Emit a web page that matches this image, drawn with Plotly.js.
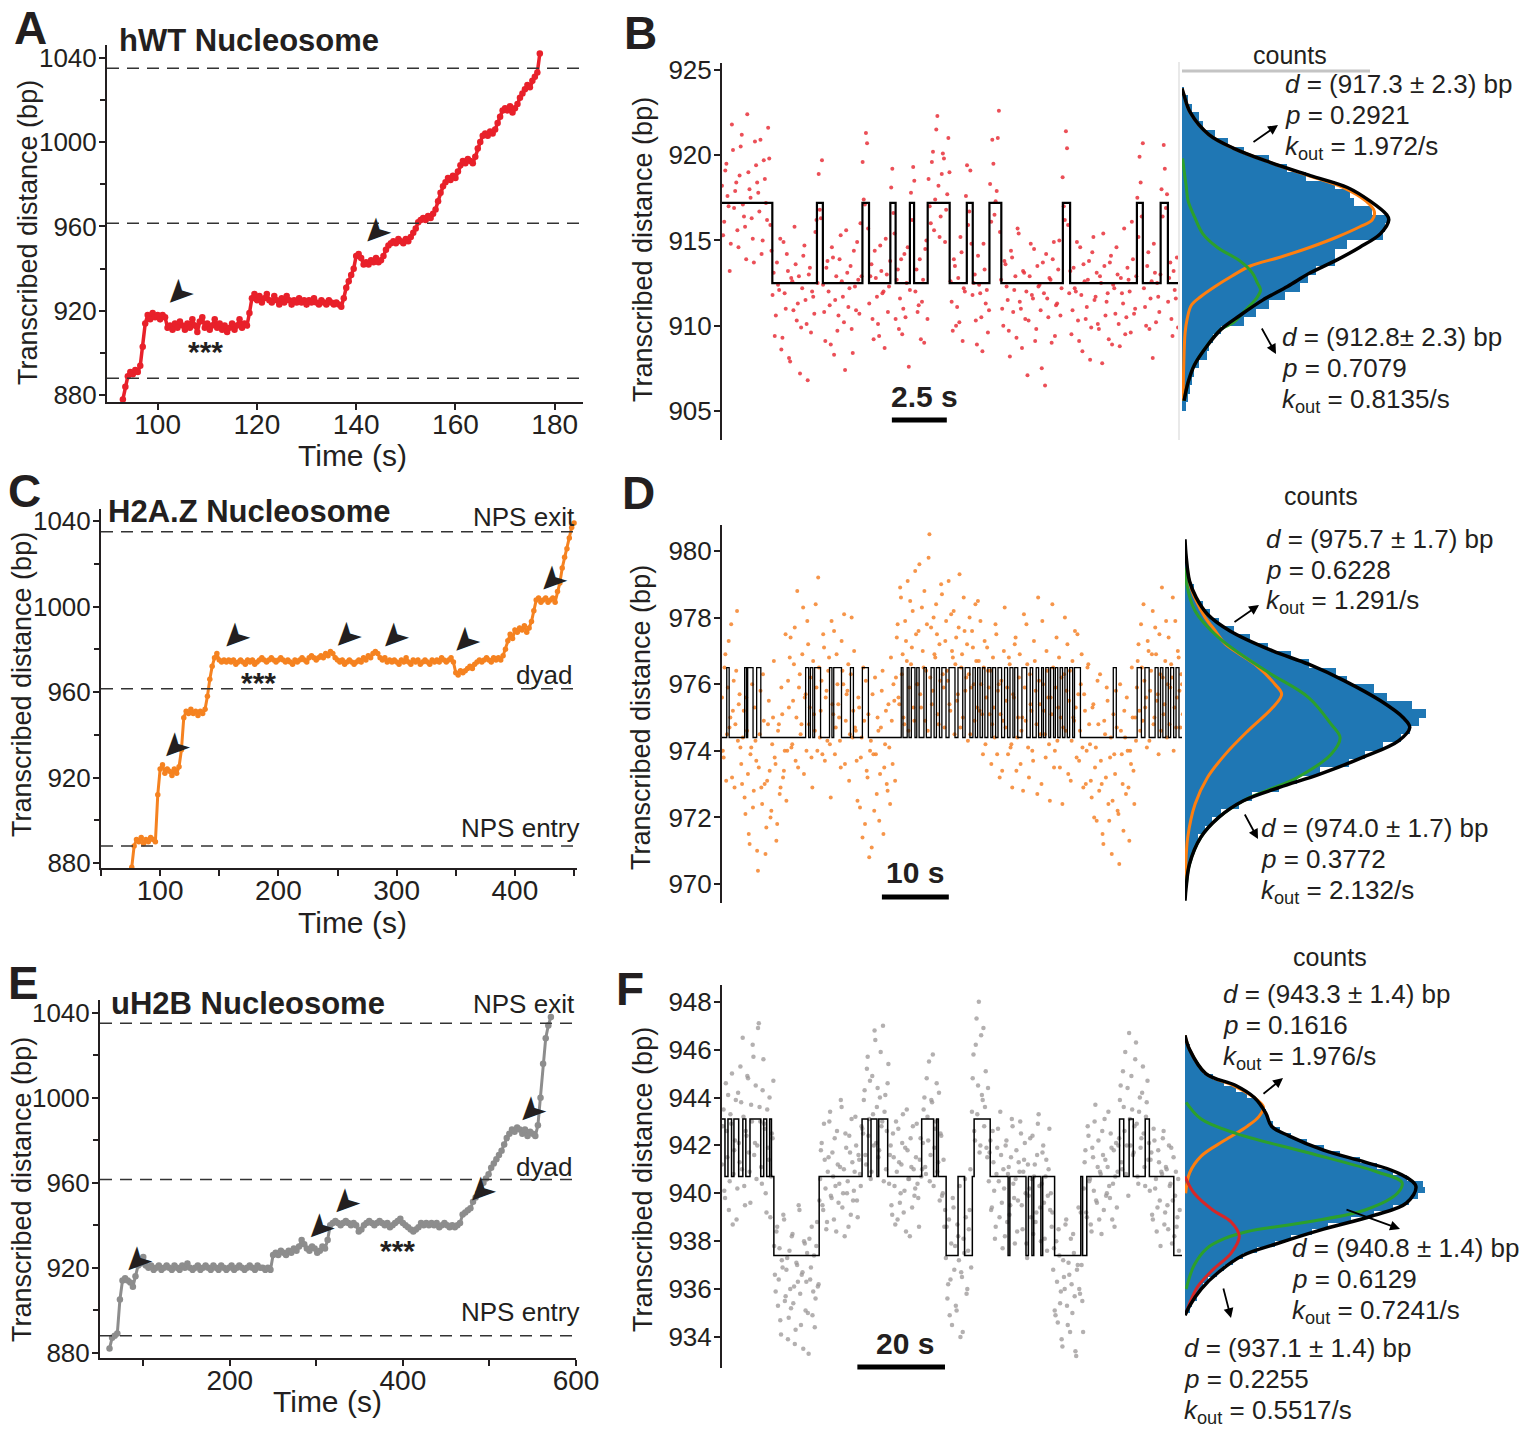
<!DOCTYPE html>
<html><head><meta charset="utf-8">
<script src="https://cdn.plot.ly/plotly-3.0.1.min.js"></script>
<style>html,body{margin:0;padding:0;background:#fff}#chart{width:1526px;height:1432px}</style>
</head><body><div id="chart"></div>
<script>
// ---------- Panel A : hWT nucleosome trace (sampled every 0.5 s from 93 s) ----------
const aT0 = 93, aDt = 0.5;
const aVals = [878,884,889,891,890,892,891,894,903,914,918,916,919,917,918,916,918,917,912,913,911,914,912,915,913,911,914,912,916,913,910,915,917,912,914,911,913,916,912,914,911,913,910,912,914,911,913,916,912,914,913,919,
926,928,925,927,924,926,928,925,924,927,925,923,926,924,927,925,923,925,924,926,924,925,923,925,924,926,924,923,925,924,923,925,924,923,924,923,922,926,931,934,937,940,946,947,945,942,943,942,944,943,945,943,944,946,949,951,952,953,952,954,953,952,954,953,955,957,959,962,963,964,963,965,964,966,968,972,976,979,981,983,982,984,983,986,989,991,990,992,991,990,993,997,1000,1003,1004,1003,1005,1004,1006,1009,1012,1015,1016,1015,1017,1014,1016,1018,1021,1023,1025,1027,1026,1029,1031,1033,1042];
const aArrowT = [102.6, 142.4], aArrowD = [922.8, 952.0];

// ---------- Panel C : H2A.Z nucleosome trace (every 2 s from 76 s) ----------
const cT0 = 76, cDt = 2;
const cVals = [878,888,891,890,892,889,891,890,892,891,890,912,924,926,922,924,923,921,924,922,925,933,948,951,950,952,950,951,949,951,950,952,958,966,972,976,978,975,974,975,974,975,974,975,973,974,975,974,973,975,974,975,973,974,975,976,975,974,975,976,975,974,975,976,975,974,975,974,973,975,974,975,976,975,974,976,977,976,975,976,977,976,978,977,979,978,976,975,974,975,973,974,975,974,973,974,975,974,976,975,977,976,978,979,978,976,975,976,974,975,974,975,974,973,975,974,976,974,973,975,974,975,973,974,975,974,973,975,974,975,974,976,975,974,975,976,974,969,968,970,969,970,971,972,971,973,974,975,974,975,976,975,974,976,975,976,975,977,980,984,987,985,989,988,990,989,991,988,990,993,998,1003,1004,1002,1003,1004,1002,1003,1004,1002,1007,1011,1018,1023,1027,1032,1037,1039];
const cArrowT = [156.6, 250.4, 291.0, 351.2, 105.4, 424.8];
const cArrowD = [980.5, 980.5, 980.5, 978.3, 929.0, 1006.9];

// ---------- Panel E : uH2B nucleosome trace (every 3 s from 61 s) ----------
const eT0 = 61, eDt = 3;
const eVals = [882,887,888,889,905,914,915,914,913,911,916,921,922,925,921,920,921,919,920,921,919,920,921,920,919,921,920,919,921,920,922,920,919,920,921,919,920,921,920,919,921,920,919,921,920,919,920,921,919,920,921,920,919,920,921,920,919,921,920,920,919,920,919,926,927,926,928,927,926,928,927,929,928,930,933,931,929,928,930,929,927,928,930,929,933,940,941,942,941,940,941,942,941,940,941,940,937,938,940,941,942,941,940,941,942,941,940,941,939,940,941,942,943,941,940,939,938,937,938,939,941,940,941,940,941,940,941,939,940,941,940,939,940,939,940,941,945,946,947,948,951,953,955,957,960,962,964,967,969,971,973,975,978,981,983,985,984,986,985,983,985,982,984,983,982,987,1000,1016,1028,1034,1038];
const eArrowT = [83.4, 293.6, 323.4, 481.2, 538.6];
const eArrowD = [917.6, 933.3, 945.1, 950.6, 988.2];

const npsLines = [888, 961.5, 1035];

// ---------- Panel B : zoomed hWT pause (two interleaved sample sets, every 0.1 s) ----------
const bDt = 0.1;
const bVals = [918.2,916.1,919.5,917.0,914.8,920.3,917.9,915.6,918.8,921.2,916.4,913.9,919.0,917.5,915.1,920.8,918.4,916.7,914.2,919.7,917.2,921.6,915.9,
911.8,909.4,913.7,912.1,908.6,914.9,911.0,913.2,907.9,912.6,915.8,910.3,912.9,909.9,914.1,911.5,906.8,913.4,912.0,910.7,916.2,
918.9,916.3,
912.4,909.1,913.8,911.2,914.6,908.3,912.9,910.6,915.3,911.7,907.4,913.1,912.2,909.8,914.4,910.9,912.7,916.0,
919.6,917.1,920.7,
911.3,913.6,909.2,912.8,910.1,914.7,911.9,908.7,913.0,912.3,
918.1,916.6,
910.4,913.3,911.6,909.5,914.2,912.5,907.6,
917.8,919.3,
912.0,910.8,913.9,911.4,909.0,915.0,
918.6,916.0,920.2,917.4,922.3,915.2,918.9,919.8,916.8,921.0,
912.6,909.7,913.5,911.1,910.2,914.3,912.2,
917.6,915.9,919.1,
911.8,913.0,908.9,912.4,910.5,914.8,911.3,909.6,
918.3,920.9,916.5,917.9,922.6,
912.7,910.0,913.6,911.5,908.2,914.0,912.1,909.3,915.4,911.0,913.2,910.4,907.1,912.9,911.8,914.5,909.8,912.3,910.9,913.7,906.5,911.6,912.8,909.0,914.9,911.2,913.3,910.6,
918.7,916.2,920.4,
911.9,909.5,913.4,912.0,910.3,914.6,908.5,912.6,911.1,913.8,909.9,915.2,911.7,910.1,912.9,907.8,913.5,911.4,909.2,914.1,912.4,910.7,913.0,908.8,911.9,915.7,910.5,912.7,909.6,913.9,911.0,
917.5,919.9,916.4,
912.2,910.0,914.3,911.6,908.1,913.1,912.5,910.8,
918.0,920.6,916.9,
911.4,913.7,909.4,912.1,914.0];
const bVals2 = [915.3,919.1,917.6,913.2,921.8,916.9,918.4,914.6,920.5,917.1,915.8,922.4,918.0,916.3,913.7,919.4,917.8,920.9,915.0,918.6,916.2,919.8,914.4,
913.1,910.6,912.4,915.1,909.3,911.9,914.2,908.1,912.8,910.9,913.6,911.3,907.2,912.2,914.7,910.1,913.0,909.6,911.7,915.5,912.5,
916.8,919.7,
910.8,913.4,912.0,908.9,914.0,911.5,909.7,913.9,912.6,910.2,915.6,911.1,913.5,908.4,912.3,914.9,910.7,912.9,
917.4,921.3,915.7,
912.9,910.4,914.4,911.7,909.4,913.2,912.0,915.1,910.8,913.8,
919.2,915.4,
912.7,909.8,913.9,911.0,910.5,914.6,912.1,
916.2,918.5,
913.3,911.2,909.2,912.7,914.5,910.4,
917.0,919.6,915.6,921.5,918.2,916.4,920.1,914.9,917.7,919.0,
911.4,913.9,910.0,912.8,915.2,909.1,912.0,
919.4,916.7,914.8,
912.5,910.3,914.1,911.9,908.5,913.3,912.1,910.9,
916.1,919.5,917.3,921.0,915.5,
911.0,913.8,912.3,909.7,914.4,910.8,912.9,915.7,911.4,908.7,913.1,912.0,910.3,914.8,911.6,909.1,913.5,912.4,907.5,911.9,914.2,910.5,912.7,913.9,909.4,911.3,915.0,912.2,
917.0,921.4,915.9,
913.2,910.9,912.2,914.9,909.1,911.8,913.6,910.4,912.7,908.0,914.3,911.5,913.1,909.8,912.5,915.4,910.6,911.9,913.7,908.9,912.2,914.6,910.1,912.8,911.3,909.5,913.4,912.0,916.1,910.7,912.9,
915.2,918.4,920.7,
911.1,913.5,909.8,912.6,914.8,910.2,911.7,913.0,
916.4,919.2,917.7,
912.8,910.4,913.2,911.6,909.9];
const bStepT = [0,2.29,4.32,4.59,6.39,6.69,7.66,7.90,8.55,8.74,9.36,10.36,11.14,11.41,12.17,12.71,15.51,15.84,18.88,19.15,19.96,20.29];
const bStepState = [0,1,0,1,0,1,0,1,0,1,0,1,0,1,0,1,0,1,0,1,0,1];
const bLevels = [917.2, 912.5];
const bEnd = 20.77;
const bBinW = 0.5;
const bBinC = [905.25,905.75,906.25,906.75,907.25,907.75,908.25,908.75,909.25,909.75,910.25,910.75,911.25,911.75,912.25,912.75,913.25,913.75,914.25,914.75,915.25,915.75,916.25,916.75,917.25,917.75,918.25,918.75,919.25,919.75,920.25,920.75,921.25,921.75,922.25,922.75,923.25,923.75];
const bCounts = [2,3,4,5,6,8,12,13,15,19,30,36,42,50,57,61,65,74,74,80,97,98,100,92,83,81,74,60,51,42,30,22,16,10,8,5,3,1];
const bBlackD = [923.9,923.5,922.5,921.2,920.4,919.6,918.8,918.1,917.3,916.5,916.2,915.4,914.6,913.8,913.1,912.3,911.5,910.6,909.8,908.8,907.7,906.7,905.6];
const bBlackC = [0,1,4,13,25,42,62,80,91,99,100,96,86,74,62,51,39,28,19,12,6,3,1];
const bOrangeD = [923.9,923.5,922.5,921.2,920.4,919.6,918.8,918.1,917.3,916.7,916.2,915.8,915.2,914.6,914.0,913.5,912.9,912.3,911.7,911.2,910.4,909.6,907.5,905.6];
const bOrangeC = [0,1,4,13,25,42,61,78,89,93,92,86,75,62,47,33,24,16,9,4.5,2.5,1.5,0.8,0.5];
const bGreenD = [919.8,919.2,918.2,917.3,916.4,915.4,914.6,913.8,913.1,912.5,912.1,911.6,911.2,910.7,910.2,909.8,908.8,907.7,906.7,905.6];
const bGreenC = [0.3,0.9,2,3,6,10,17,28,34,36.5,38,36,33,29,25,19,12,6,3,1];

// ---------- Panel D : zoomed H2A.Z pause (two interleaved sample sets, every 0.25 s) ----------
const dDt = 0.25;
const dVals = [975.6,973.8,976.9,974.5,977.3,975.0,973.2,976.1,974.8,978.2,975.4,974.1,
973.0,975.2,972.1,974.6,971.5,973.9,976.0,972.8,974.3,971.0,973.5,975.8,972.4,974.9,970.9,973.1,975.5,972.0,974.2,976.7,973.6,971.8,974.8,972.9,975.1,973.4,977.5,974.0,
975.3,977.4,974.2,976.6,973.7,978.8,975.9,974.5,976.9,973.3,975.7,977.9,974.8,976.2,972.9,975.1,978.4,974.0,976.5,975.2,973.9,977.1,975.6,974.3,976.8,972.6,975.4,977.6,974.7,976.0,975.0,973.5,976.4,978.1,974.9,975.8,973.1,976.3,974.4,977.0,
974.6,972.5,975.3,973.8,971.4,974.9,976.1,973.2,970.8,974.3,975.7,972.2,973.9,975.0,971.9,974.7,976.4,973.5,975.2,972.8,974.1,976.8,973.6,975.5,
976.2,977.8,975.4,978.6,976.9,974.8,977.3,979.1,975.9,976.6,978.2,974.9,977.5,976.0,979.6,975.3,977.0,978.8,976.4,974.6,980.5,977.7,975.8,976.9,978.4,975.1,977.2,979.0,976.3,974.7,977.9,976.1,975.4,978.1,976.8,974.5,977.4,975.7,979.3,976.5,975.0,977.6,976.2,974.3,978.0,975.9,977.1,974.9,976.7,978.5,975.2,976.0,973.9,977.3,975.6,976.4,
975.1,973.6,976.8,974.4,977.5,975.8,973.2,976.1,974.9,978.3,975.5,973.9,976.6,974.2,975.7,977.2,973.4,975.0,976.9,974.6,972.8,975.9,977.8,974.1,976.3,975.2,973.7,976.7,974.8,978.6,975.4,973.0,976.0,974.5,977.0,975.6,972.5,975.1,976.5,974.0,977.4,975.3,973.5,976.2,974.7,978.0,975.8,973.3,976.4,974.3,975.0,977.6,973.8,975.7,974.6,976.9,972.9,975.2,974.0,976.6,
974.2,972.6,975.4,973.5,971.9,974.8,976.3,973.0,971.2,974.5,975.9,972.4,973.8,970.9,975.1,973.3,974.7,972.1,976.0,973.9,971.6,974.4,975.6,972.9,974.0,976.5,973.4,975.0,
975.9,977.2,974.6,976.5,978.4,975.3,974.1,977.0,975.8,976.9,974.8,977.7,975.5,973.9,976.3,978.9,975.1,976.7,974.4,977.4,975.9,976.2,974.0,977.9,975.6,976.8,974.7,976.0];
const dVals2 = [974.0,976.5,973.1,975.9,974.7,977.8,975.2,972.9,976.4,974.3,975.7,973.6,
974.4,972.6,975.6,973.3,971.2,974.1,972.3,975.3,973.7,970.4,974.5,972.9,976.3,973.0,971.7,974.8,973.4,972.2,975.0,973.8,971.3,974.6,972.7,975.9,973.2,974.0,972.5,976.1,
976.8,974.1,975.5,977.7,975.0,973.5,976.3,974.8,978.3,975.6,974.0,977.2,975.3,973.8,976.7,974.6,975.9,979.2,974.4,976.1,977.5,973.7,975.8,976.4,974.2,977.9,975.1,973.9,976.9,975.4,974.3,977.3,976.0,973.6,975.7,976.6,974.5,978.0,975.2,974.7,
973.7,975.6,972.3,974.4,976.5,971.8,973.4,975.1,974.0,971.1,973.9,976.2,972.7,974.6,973.3,975.8,971.5,974.2,973.0,975.4,972.4,974.9,976.0,973.1,
977.4,975.6,978.9,976.3,975.0,977.9,976.7,974.6,978.5,977.1,975.3,979.4,976.0,977.6,975.7,978.3,976.5,974.9,977.8,979.8,976.2,975.4,978.0,976.8,977.5,974.8,976.1,978.7,975.9,977.3,976.4,979.1,975.2,977.0,978.2,976.6,975.5,977.7,974.7,976.9,978.6,975.8,977.2,976.3,974.5,977.6,976.0,978.4,975.3,976.7,977.9,975.1,976.5,974.2,977.1,975.9,
976.4,974.8,975.3,977.8,973.9,976.0,975.1,973.4,977.0,974.7,975.9,976.8,974.1,972.9,975.6,977.4,974.4,976.2,973.6,975.0,978.1,974.9,976.6,973.2,975.4,974.0,977.3,975.8,972.7,976.1,974.5,977.9,975.2,973.8,976.4,974.2,975.6,978.4,973.5,975.9,974.3,976.8,975.0,972.4,976.3,974.6,977.2,975.5,973.1,976.7,974.9,975.3,977.5,973.7,976.0,974.1,975.7,973.0,976.5,974.8,
973.1,975.3,972.0,974.1,976.1,972.8,973.7,971.5,974.9,973.2,975.5,971.9,974.4,972.5,973.9,975.8,972.2,970.6,974.6,973.0,975.2,972.7,974.0,971.3,973.6,975.0,972.4,974.3,
976.7,975.2,977.8,974.9,976.1,975.6,977.3,974.3,976.4,978.2,975.0,976.9,975.7,977.5,974.6,976.2,975.4,977.9,976.0,974.8,976.6,978.6,975.3,974.7,977.0,975.8,976.3,975.1];
const dStepT = [0,0.71,1.07,3.39,3.66,3.84,4.64,5.18,5.80,12.50,12.95,13.21,13.57,13.84,14.73,16.07,16.43,16.70,17.86,19.20,19.64,20.98,21.88,26.79,27.05,27.68,27.95,28.30,28.84,29.11,29.46,30.18,30.54,31.25,31.70,32.05,32.50,32.86,33.48,33.93,34.82,35.27,35.98,36.34,37.05,37.50,37.86,38.21,38.57,38.93,39.29,39.73,40.18,40.45,40.89,41.25,41.79,42.23,42.68,43.04,43.48,43.75,44.20,44.82,45.54,46.07,46.43,46.96,47.32,47.77,48.04,48.39,48.84,49.11,49.55,49.82,50.18,50.54,50.89,51.25,51.61,51.96,52.41,52.68,53.57,58.48,58.93,62.05,62.68,63.21,63.84,64.73,65.18,65.54,65.89,66.34,66.70,67.05,67.50,67.86,68.30];
const dLevels = [974.4, 976.5];
const dEnd = 68.75;
const dBinW = 0.25;
const dBinC = [970.125,970.375,970.625,970.875,971.125,971.375,971.625,971.875,972.125,972.375,972.625,972.875,973.125,973.375,973.625,973.875,974.125,974.375,974.625,974.875,975.125,975.375,975.625,975.875,976.125,976.375,976.625,976.875,977.125,977.375,977.625,977.875,978.125,978.375,978.625,978.875,979.125,979.375,979.625,979.875];
const dCounts = [1,1,2,3,5,6,9,12,16,24,30,42,50,60,73,80,88,96,100,104,107,101,90,84,72,67,55,47,37,29,22,15,11,8,5,4,2,1,1,0.5];
const dBlackD = [980.35,979.85,979.1,978.6,978.1,977.6,977.0,976.6,976.1,975.5,975.0,974.7,974.3,973.8,973.3,972.9,972.5,972.0,971.4,970.6,969.9,969.5];
const dBlackC = [0,0.5,2,5,10,20,39,55,71,87,97,100,95,79,60,42,26,15,7,2,0.5,0];
const dOrangeD = [979.5,979.0,978.5,978.0,977.6,977.2,976.6,976.0,975.7,975.3,974.6,973.9,973.2,972.4,971.4,970.5,969.8];
const dOrangeC = [1,2.2,5,9,13.5,18,31,40,43,39,28,18,10,4.5,1.2,0.3,0];
const dGreenD = [979.5,979.1,978.2,977.4,976.4,975.6,974.8,974.4,973.9,973.2,972.8,972.5,972.0,971.4,970.6,969.9];
const dGreenC = [0.2,0.5,4.5,15,36,55,65,69,65,50,36,26,15,7,2,0.5];

// ---------- Panel F : zoomed uH2B pause (two interleaved sample sets, every 0.35 s) ----------
const fDt = 0.35;
const fVals = [941.2,943.5,939.8,942.6,944.1,940.5,942.9,938.7,941.8,943.9,940.2,942.1,945.3,941.0,943.2,939.5,942.4,944.8,940.9,943.7,946.2,941.6,944.5,942.0,947.1,943.0,940.4,945.6,942.7,939.2,941.9,944.0,940.7,942.3,
937.8,935.9,938.6,936.4,934.7,937.2,939.1,935.5,936.8,933.9,937.6,935.2,938.3,936.1,934.3,937.0,939.5,935.8,936.6,933.5,937.9,936.3,935.0,938.1,936.9,934.9,937.4,935.6,938.8,936.2,
940.6,942.1,939.3,941.4,938.5,940.9,943.0,939.9,941.7,938.9,940.3,942.6,939.6,941.1,943.6,940.0,938.2,941.9,940.5,942.4,939.1,941.3,940.1,943.2,939.7,941.6,940.8,942.8,
942.5,944.3,941.2,945.7,943.1,940.6,944.9,942.0,946.4,943.6,941.5,944.0,942.8,947.0,943.4,941.0,944.6,
940.4,942.0,939.1,941.5,938.7,940.9,942.7,939.6,941.2,943.3,940.1,938.4,941.8,940.6,942.3,939.4,941.0,940.2,942.9,939.8,941.4,940.7,
942.1,944.0,940.8,943.2,945.5,941.6,943.8,940.3,942.7,944.6,941.3,939.7,942.4,940.0,938.6,
937.3,935.6,938.9,936.4,934.5,939.4,937.8,935.1,938.2,940.3,936.7,934.2,937.5,939.0,936.0,938.5,941.0,
943.4,945.8,942.2,947.3,944.5,941.7,946.6,943.9,942.8,945.1,941.5,
940.5,942.2,939.4,941.3,938.1,940.8,942.7,939.0,941.6,937.7,940.2,942.0,938.8,941.1,939.5,943.1,940.4,937.9,941.8,939.7,940.9,942.5,938.5,941.4,940.0,937.3,939.9,942.3,940.6,938.3,941.2,939.2,942.9,940.3,938.0,941.7,939.6,940.7,937.6,941.0,939.3,938.6,
936.8,935.1,938.0,934.6,937.4,935.9,933.6,936.5,938.7,935.3,937.1,934.2,936.2,938.3,935.7,933.2,937.0,936.0,939.2,935.5,
940.2,941.8,939.0,942.4,940.6,938.4,941.5,943.0,939.7,941.1,938.9,940.8,942.6,939.3,941.4,940.0,943.4,939.8,941.9,940.4,938.6,942.1,940.9,
942.3,944.5,941.0,943.6,945.9,942.0,939.9,943.1,944.9,941.6,942.8,946.3,940.7,943.4,941.9,944.2,942.5,940.3,943.8,941.4,
940.1,941.7,938.9,942.2,940.6,939.4,941.3,937.8,940.8,942.6,939.2,941.0,938.5,940.3,941.9,939.7,938.2,940.9,939.0,937.6];
const fVals2 = [942.8,940.1,944.6,941.5,939.3,943.3,945.0,940.8,942.2,938.9,944.2,941.3,943.8,946.5,940.3,942.6,944.9,941.7,939.6,943.0,945.7,942.1,940.6,946.9,943.6,941.1,944.3,942.9,940.0,943.5,941.4,939.0,942.5,944.7,
936.6,938.4,935.3,937.7,934.1,936.9,938.9,935.7,937.3,934.8,936.0,938.2,935.4,933.7,937.1,936.3,939.3,934.5,936.7,938.0,935.1,937.5,933.3,936.4,938.6,935.9,934.4,937.8,936.1,939.7,
941.8,939.5,942.9,940.2,938.8,941.5,943.4,939.8,940.7,942.3,938.4,941.2,940.4,943.9,939.4,941.0,942.5,940.0,938.6,941.7,943.1,939.7,940.9,942.0,939.0,941.4,940.3,942.7,
943.9,941.6,945.2,942.4,944.7,940.9,943.3,946.8,942.1,944.4,941.8,945.9,943.0,940.5,944.1,942.6,945.4,
941.6,939.5,942.5,940.3,943.0,938.9,941.3,940.0,942.1,939.2,941.9,943.5,940.6,938.2,941.1,942.8,939.9,941.5,940.4,938.6,942.3,941.0,
943.5,941.1,944.8,942.2,940.5,943.9,945.8,941.9,943.0,940.9,944.2,942.5,939.9,941.4,939.3,
938.6,936.2,934.9,937.9,939.8,936.8,935.3,938.7,937.2,934.0,936.5,938.1,940.6,935.8,937.6,939.3,936.9,
944.8,942.6,946.2,943.3,948.0,942.0,944.1,946.9,943.6,941.9,944.4,
941.7,939.3,942.6,940.1,938.6,941.9,940.5,943.4,939.6,941.0,938.2,942.2,940.8,939.1,941.5,942.8,939.8,940.6,938.4,941.3,943.0,939.5,940.9,942.1,937.9,941.2,940.2,939.0,942.4,940.7,938.8,941.6,943.3,939.4,940.4,942.0,938.1,941.4,939.9,942.7,940.0,939.2,
937.7,934.9,936.3,938.5,935.4,933.9,937.2,936.0,938.9,934.5,936.6,938.1,935.0,937.5,933.4,936.8,939.4,935.8,937.0,934.2,
941.3,939.2,942.8,940.5,938.7,941.9,940.1,943.7,939.6,942.2,940.9,938.3,941.6,943.1,939.9,941.1,940.3,942.5,938.9,941.8,940.7,939.4,942.0,
943.9,941.3,945.1,942.6,940.8,944.4,946.7,942.0,943.5,941.7,945.6,942.9,940.4,944.0,942.3,945.3,941.1,943.2,944.7,942.1,
941.4,939.1,942.7,940.2,938.4,941.8,939.7,940.9,942.3,938.7,941.1,939.5,942.0,940.4,937.9,941.5,939.9,938.6,940.6,939.3];
const fStepT = [0,0.68,1.36,2.18,2.72,3.81,4.76,5.44,6.39,8.84,9.52,10.20,10.88,11.29,11.84,22.18,31.97,33.33,34.01,35.37,35.78,37.82,45.58,48.30,48.98,49.39,51.16,53.88,55.37,57.14,57.55,61.22,65.31,65.71,69.39,69.93,70.75,71.16,72.79,73.20,75.92,81.90,82.31,83.27,90.75,91.70,92.93,93.88,96.60,97.55,103.13];
const fStepState = [0,1,0,1,0,1,0,1,0,1,0,1,0,1,2,1,0,1,0,1,0,1,0,1,0,1,2,1,2,1,0,1,2,1,2,1,2,1,2,1,2,1,2,1,0,1,0,1,0,1,2];
const fLevels = [943.1, 940.7, 937.4];
const fEnd = 105.0;
const fBinW = 0.25;
const fBinC = [935.125,935.375,935.625,935.875,936.125,936.375,936.625,936.875,937.125,937.375,937.625,937.875,938.125,938.375,938.625,938.875,939.125,939.375,939.625,939.875,940.125,940.375,940.625,940.875,941.125,941.375,941.625,941.875,942.125,942.375,942.625,942.875,943.125,943.375,943.625,943.875,944.125,944.375,944.625,944.875,945.125,945.375,945.625,945.875,946.125,946.375];
const fCounts = [2,3,5,6,8,10,14,17,21,25,31,39,46,55,62,72,82,90,97,101,104,103,96,90,83,76,67,60,53,46,41,38,36,35,33,31,27,22,17,12,8,6,4,3,2,1];
const fBlackD = [946.6,946.0,945.0,944.5,944.0,943.35,942.8,942.4,941.8,941.3,940.9,940.3,939.6,939.05,938.5,937.9,937.4,936.7,936.0,935.3,934.9];
const fBlackC = [0,2,9,22,30,35,37.5,45,60,78,91,100,96,81,60,40,25,14.5,7,2,0];
const fOrangeD = [946.6,946.0,945.0,944.5,944.0,943.6,943.2,942.8,942.2,941.55,940.85,940.0];
const fOrangeC = [0,2,9,21,30,34,32,27,17,7,2,0.3];
const fGreenD = [943.8,943.1,942.5,941.7,940.9,940.45,940.0,939.3,938.8,938.4,938.1,937.7,937.0,936.0];
const fGreenC = [0.5,7,22,53,83,94,92,78,53,27,17,9.5,4,0.5];
const fRedD = [940.7,940.0,939.3,938.8,938.2,937.5,936.8,936.1,935.4,935.0];
const fRedC = [0,4,12,20,23.5,20,12,5.5,2,0.5];

// ---------- helpers ----------
const W = 1526, H = 1432;
const px = v => v / W, py = v => 1 - v / H;
const FONT = 'Liberation Sans, Arial, Helvetica, sans-serif';
const INK = '#231f20';
const grid = (t0, dt, n) => Array.from({length: n}, (_, i) => +(t0 + i * dt).toFixed(3));
function steps(times, states, levels, end) {
  const x = [], y = [];
  times.forEach((t, i) => { x.push(t); y.push(levels[states[i]]); });
  x.push(end); y.push(levels[states[states.length - 1]]);
  return {x, y};
}
const dStates = dStepT.map((_, i) => i % 2);
const bStep = steps(bStepT, bStepState, bLevels, bEnd);
const dStep = steps(dStepT, dStates, dLevels, dEnd);
const fStep = steps(fStepT, fStepState, fLevels, fEnd);

function cloud(vals, dt, off, xa, ya, color, size, op) {
  return {x: grid(off, dt, vals.length), y: vals, xaxis: xa, yaxis: ya, mode: 'markers',
    marker: {color, size, opacity: op}};
}
function curve(c, d, xa, ya, color, w) {
  return {x: c, y: d, xaxis: xa, yaxis: ya, mode: 'lines', line: {color, width: w, shape: 'spline'}};
}
function hist(centers, counts, w, xa, ya) {
  return {type: 'bar', orientation: 'h', y: centers, x: counts, width: w, xaxis: xa, yaxis: ya,
    marker: {color: '#1f77b4', line: {width: 0}}};
}

const traces = [
  {x: grid(aT0, aDt, aVals.length), y: aVals, xaxis: 'x', yaxis: 'y', mode: 'lines+markers',
   line: {color: '#e8202a', width: 3.5}, marker: {color: '#e8202a', size: 6.5}},
  {x: grid(cT0, cDt, cVals.length), y: cVals, xaxis: 'x4', yaxis: 'y4', mode: 'lines+markers',
   line: {color: '#f58220', width: 3}, marker: {color: '#f58220', size: 5.5}},
  {x: grid(eT0, eDt, eVals.length), y: eVals, xaxis: 'x7', yaxis: 'y7', mode: 'lines+markers',
   line: {color: '#8d8d8d', width: 3}, marker: {color: '#8d8d8d', size: 6.5}},
  cloud(bVals, bDt, 0, 'x2', 'y2', '#e8303a', 4, 0.85),
  cloud(bVals2, bDt, 0.05, 'x2', 'y2', '#e8303a', 4, 0.85),
  {x: bStep.x, y: bStep.y, xaxis: 'x2', yaxis: 'y2', mode: 'lines', line: {shape: 'hv', color: '#000', width: 2.2}},
  hist(bBinC, bCounts, bBinW, 'x3', 'y2'),
  curve(bOrangeC, bOrangeD, 'x3', 'y2', '#ff7f0e', 3),
  curve(bGreenC, bGreenD, 'x3', 'y2', '#2ca02c', 3),
  curve(bBlackC, bBlackD, 'x3', 'y2', '#000', 3.5),
  cloud(dVals, dDt, 0, 'x5', 'y5', '#f5822a', 4, 0.85),
  cloud(dVals2, dDt, 0.125, 'x5', 'y5', '#f5822a', 4, 0.85),
  {x: dStep.x, y: dStep.y, xaxis: 'x5', yaxis: 'y5', mode: 'lines', line: {shape: 'hv', color: '#000', width: 1.3}},
  hist(dBinC, dCounts, dBinW, 'x6', 'y5'),
  curve(dOrangeC, dOrangeD, 'x6', 'y5', '#ff7f0e', 3),
  curve(dGreenC, dGreenD, 'x6', 'y5', '#2ca02c', 3),
  curve(dBlackC, dBlackD, 'x6', 'y5', '#000', 3.5),
  cloud(fVals, fDt, 0, 'x8', 'y8', '#9a9595', 4.5, 0.75),
  cloud(fVals2, fDt, 0.175, 'x8', 'y8', '#9a9595', 4.5, 0.75),
  {x: fStep.x, y: fStep.y, xaxis: 'x8', yaxis: 'y8', mode: 'lines', line: {shape: 'hv', color: '#000', width: 1.5}},
  hist(fBinC, fCounts, fBinW, 'x9', 'y8'),
  curve(fOrangeC, fOrangeD, 'x9', 'y8', '#ff7f0e', 3),
  curve(fGreenC, fGreenD, 'x9', 'y8', '#2ca02c', 3),
  curve(fRedC, fRedD, 'x9', 'y8', '#d62728', 3),
  curve(fBlackC, fBlackD, 'x9', 'y8', '#000', 3.5)
];

function xAx(d0, d1, anchor, range, dtick, minor) {
  const ax = {domain: [px(d0), px(d1)], anchor, range, showgrid: false, zeroline: false, showline: true,
    linecolor: INK, linewidth: 2, ticks: 'outside', ticklen: 6, tickwidth: 2, tickcolor: INK,
    tickfont: {family: FONT, size: 28, color: INK}, ticklabelstandoff: -10, dtick, tick0: 0};
  if (minor) ax.minor = {dtick: minor, ticks: 'outside', ticklen: 6, tickwidth: 2, tickcolor: INK, showgrid: false};
  return ax;
}
function yAx(top, bottom, anchor, range, dtick, tick0, minor) {
  const ax = {domain: [py(bottom), py(top)], anchor, range, showgrid: false, zeroline: false, showline: true,
    linecolor: INK, linewidth: 2, ticks: 'outside', ticklen: 6, tickwidth: 2, tickcolor: INK,
    tickfont: {family: FONT, size: 26, color: INK}, ticklabelstandoff: -3, dtick, tick0};
  if (minor) ax.minor = {dtick: minor, tick0, ticks: 'outside', ticklen: 5, tickwidth: 2, tickcolor: INK, showgrid: false};
  return ax;
}
function hidden(d0, d1, anchor, range) {
  return {domain: [px(d0), px(d1)], anchor, range, visible: false, showgrid: false, zeroline: false};
}

const layout = {
  width: W, height: H, margin: {l: 0, r: 0, t: 0, b: 0}, showlegend: false,
  paper_bgcolor: '#fff', plot_bgcolor: 'rgba(0,0,0,0)', bargap: 0,
  font: {family: FONT, color: INK},
  xaxis: xAx(107, 583, 'y', [89.8, 185.7], 20),
  yaxis: yAx(45, 402, 'x', [876.8, 1046], 40, 880, 20),
  xaxis2: hidden(722, 1178, 'y2', [0, 20.75]),
  yaxis2: yAx(63, 440, 'x2', [903.3, 925.4], 5, 905),
  xaxis3: hidden(1182, 1395, 'y2', [0, 103]),
  xaxis4: xAx(101, 577, 'y4', [50, 452.5], 100, 50),
  yaxis4: yAx(509, 868, 'x4', [877.7, 1045.6], 40, 880, 20),
  xaxis5: hidden(722, 1182, 'y5', [0, 68.75]),
  yaxis5: yAx(525, 903, 'x5', [969.43, 980.78], 2, 970),
  xaxis6: hidden(1185, 1430, 'y5', [0, 109]),
  xaxis7: xAx(100, 576, 'y7', [50, 600], 200, 100),
  yaxis7: yAx(1000, 1358, 'x7', [877.5, 1046], 40, 880, 20),
  xaxis8: hidden(722, 1182, 'y8', [0, 105]),
  yaxis8: yAx(985, 1368, 'x8', [932.7, 948.7], 2, 934),
  xaxis9: hidden(1185, 1432, 'y8', [0, 107]),
  shapes: [], annotations: []
};

[['x', 'y'], ['x4', 'y4'], ['x7', 'y7']].forEach(([xa, ya]) => {
  npsLines.forEach(v => layout.shapes.push({type: 'line', xref: xa + ' domain', yref: ya, x0: 0, x1: 1, y0: v, y1: v,
    line: {color: '#333', width: 1.5, dash: '12px,8px'}}));
});
layout.shapes.push({type: 'line', xref: 'x2', yref: 'paper', x0: 7.73, x1: 10.23, y0: py(420), y1: py(420), line: {color: '#000', width: 5}});
layout.shapes.push({type: 'line', xref: 'x5', yref: 'paper', x0: 23.9, x1: 33.9, y0: py(897), y1: py(897), line: {color: '#000', width: 5}});
layout.shapes.push({type: 'line', xref: 'x8', yref: 'paper', x0: 30.9, x1: 50.9, y0: py(1367), y1: py(1367), line: {color: '#000', width: 5}});
layout.shapes.push({type: 'line', xref: 'paper', yref: 'paper', x0: px(1182), x1: px(1370), y0: py(71), y1: py(71), line: {color: '#c4c4c4', width: 3}});
layout.shapes.push({type: 'line', xref: 'paper', yref: 'paper', x0: px(1179), x1: px(1179), y0: py(62), y1: py(440), line: {color: '#e2e2e2', width: 1.5}});

const A = layout.annotations;
function txt(text, x, y, size, opt = {}) {
  A.push(Object.assign({text, x: px(x), y: py(y), xref: 'paper', yref: 'paper', showarrow: false,
    xanchor: 'left', yanchor: 'middle', font: {family: FONT, size, color: INK}}, opt));
}
[['A', 12, 28], ['B', 622, 33], ['C', 6, 491], ['D', 620, 493], ['E', 6, 983], ['F', 614, 989]].forEach(([l, x, y]) =>
  txt('<b>' + l + '</b>', x, y, 46));
txt('<b>hWT Nucleosome</b>', 117, 40, 31);
txt('<b>H2A.Z Nucleosome</b>', 106, 511, 31);
txt('<b>uH2B Nucleosome</b>', 109, 1003, 31);
const yTitle = 'Transcribed distance (bp)';
[[28, 233], [22, 685], [22, 1190], [643, 250], [641, 718], [643, 1180]].forEach(([x, y]) =>
  txt(yTitle, x, y, 27, {xanchor: 'center', textangle: -90}));
[[352, 456], [352, 923], [327, 1401]].forEach(([x, y]) => txt('Time (s)', x, y, 30, {xanchor: 'center'}));
txt('NPS exit', 577, 517, 26, {xanchor: 'right'});
txt('dyad', 574, 675, 26, {xanchor: 'right'});
txt('NPS entry', 582, 828, 26, {xanchor: 'right'});
txt('NPS exit', 577, 1004, 26, {xanchor: 'right'});
txt('dyad', 574, 1167, 26, {xanchor: 'right'});
txt('NPS entry', 582, 1312, 26, {xanchor: 'right'});
txt('<b>***</b>', 205, 352, 30, {xanchor: 'center'});
txt('<b>***</b>', 258, 682, 30, {xanchor: 'center'});
txt('<b>***</b>', 398, 1250, 30, {xanchor: 'center'});
txt('<b>2.5 s</b>', 924, 396, 30, {xanchor: 'center'});
txt('<b>10 s</b>', 915, 872, 30, {xanchor: 'center'});
txt('<b>20 s</b>', 905, 1343, 30, {xanchor: 'center'});
txt('counts', 1290, 55, 25, {xanchor: 'center'});
txt('counts', 1321, 496, 25, {xanchor: 'center'});
txt('counts', 1330, 957, 25, {xanchor: 'center'});
function state(x, y, d, p, k) {
  txt('<i>d</i> = ' + d, x, y, 26);
  txt('<i>p</i> = ' + p, x, y + 31, 26);
  txt('<i>k</i><sub>out</sub> = ' + k, x, y + 63, 26);
}
state(1283, 84, '(917.3 ± 2.3) bp', '0.2921', '1.972/s');
state(1280, 337, '(912.8± 2.3) bp', '0.7079', '0.8135/s');
state(1264, 539, '(975.7 ± 1.7) bp', '0.6228', '1.291/s');
state(1259, 828, '(974.0 ± 1.7) bp', '0.3772', '2.132/s');
state(1221, 994, '(943.3 ± 1.4) bp', '0.1616', '1.976/s');
state(1290, 1248, '(940.8 ± 1.4) bp', '0.6129', '0.7241/s');
state(1182, 1348, '(937.1 ± 1.4) bp', '0.2255', '0.5517/s');
[[1278, 125, 1252, 143], [1276, 354, 1261, 327], [1259, 605, 1233, 623], [1258, 839, 1244, 813],
 [1283, 1078, 1262, 1095], [1400, 1229, 1345, 1209], [1231, 1318, 1223, 1287]].forEach(([x, y, tx, ty]) =>
  A.push({x: px(x), y: py(y), xref: 'paper', yref: 'paper', ax: tx - x, ay: ty - y, text: '', showarrow: true,
    arrowhead: 2, arrowsize: 1.1, arrowwidth: 1.8, arrowcolor: '#000', standoff: 0}));
function chevrons(ts, ds, xa, ya) {
  ts.forEach((t, i) => A.push({x: t, y: ds[i], xref: xa, yref: ya, text: '\u27A4', showarrow: false,
    textangle: 135, xshift: 9, yshift: 10, xanchor: 'center', yanchor: 'middle',
    font: {family: 'DejaVu Sans', size: 34, color: INK}}));
}
chevrons(aArrowT, aArrowD, 'x', 'y');
chevrons(cArrowT, cArrowD, 'x4', 'y4');
chevrons(eArrowT, eArrowD, 'x7', 'y7');

Plotly.newPlot('chart', traces, layout, {staticPlot: true, displayModeBar: false});
</script></body></html>
